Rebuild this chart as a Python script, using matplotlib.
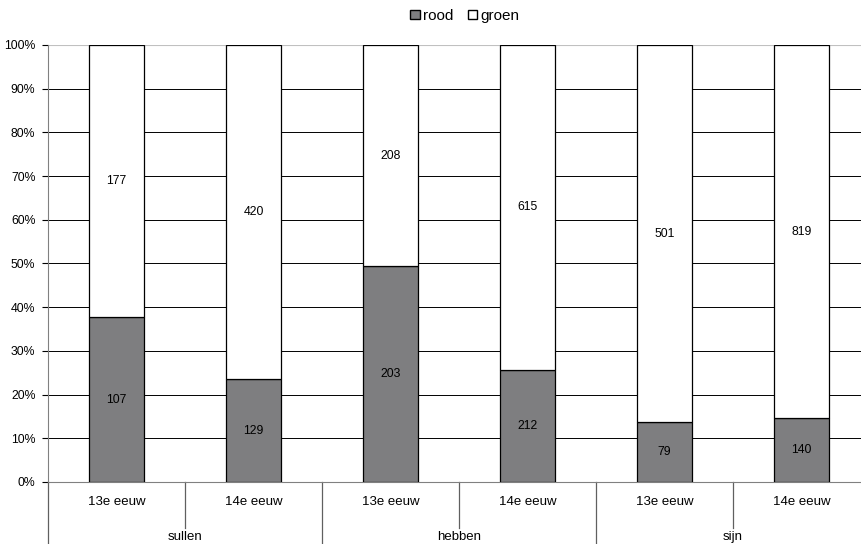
import matplotlib.pyplot as plt
from matplotlib.patches import Patch
import numpy as np

plt.rcParams['font.family'] = ['Liberation Sans', 'DejaVu Sans']

# gegevens
werkwoorden = ['sullen', 'hebben', 'sijn']
eeuwen = ['13e eeuw', '14e eeuw']
rood = [107, 129, 203, 212, 79, 140]
groen = [177, 420, 208, 615, 501, 819]

rood = np.array(rood, dtype=float)
groen = np.array(groen, dtype=float)
totaal = rood + groen
rood_pct = rood / totaal * 100
groen_pct = groen / totaal * 100

fig = plt.figure(figsize=(8.62, 5.44), dpi=100)
ax = fig.add_axes([48 / 862, 62 / 544, 822 / 862, 437 / 544])

x = np.arange(len(rood)) + 0.5
ax.bar(x, rood_pct, width=0.4, color='#7e7e80', edgecolor='black', linewidth=0.9, zorder=3)
ax.bar(x, groen_pct, width=0.4, bottom=rood_pct, color='white', edgecolor='black', linewidth=0.9, zorder=3)

for xi, r, g, rp, gp in zip(x, rood, groen, rood_pct, groen_pct):
    ax.text(xi, rp / 2, '%d' % r, ha='center', va='center', fontsize=8.8, zorder=4)
    ax.text(xi, rp + gp / 2, '%d' % g, ha='center', va='center', fontsize=8.8, zorder=4)

ax.set_xlim(0, 6)
ax.set_ylim(0, 100)
ax.set_yticks(range(0, 101, 10))
ax.set_yticklabels(['%d%%' % v for v in range(0, 101, 10)], fontsize=8.8)
ax.tick_params(axis='y', length=4, width=0.8, color='black', pad=5)
ax.set_xticks([])

# rasterlijnen
for v in range(10, 100, 10):
    ax.axhline(v, color='black', linewidth=0.7, zorder=1)
ax.axhline(100, color='#c0c0c0', linewidth=0.8, zorder=1)

for s in ['top', 'right']:
    ax.spines[s].set_visible(False)
ax.spines['left'].set_color('#808080')
ax.spines['bottom'].set_color('#808080')

# categorie-as met twee niveaus
tr = ax.get_xaxis_transform()
for xi, lab in zip(x, eeuwen * len(werkwoorden)):
    ax.text(xi, -0.045, lab, transform=tr, ha='center', va='center', fontsize=9.5)
for i in range(len(werkwoorden)):
    ax.plot([2 * i + 1, 2 * i + 1], [0, -0.105], transform=tr, color='#606060',
            linewidth=0.9, clip_on=False)
for i in range(len(werkwoorden) + 1):
    ax.plot([2 * i, 2 * i], [0, -0.16], transform=tr, color='#606060',
            linewidth=0.9, clip_on=False)
for i, w in enumerate(werkwoorden):
    ax.text(2 * i + 1, -0.127, w, transform=tr, ha='center', va='center', fontsize=9.5)

handles = [Patch(facecolor='#7e7e80', edgecolor='black', label='rood'),
           Patch(facecolor='white', edgecolor='black', label='groen')]
fig.legend(handles=handles, loc='center', bbox_to_anchor=(465 / 862, 1 - 16 / 544), ncol=2,
           frameon=False, fontsize=11, handlelength=0.6, handleheight=0.6,
           handletextpad=0.2, columnspacing=1.0)

fig.savefig('out.png', dpi=100)
